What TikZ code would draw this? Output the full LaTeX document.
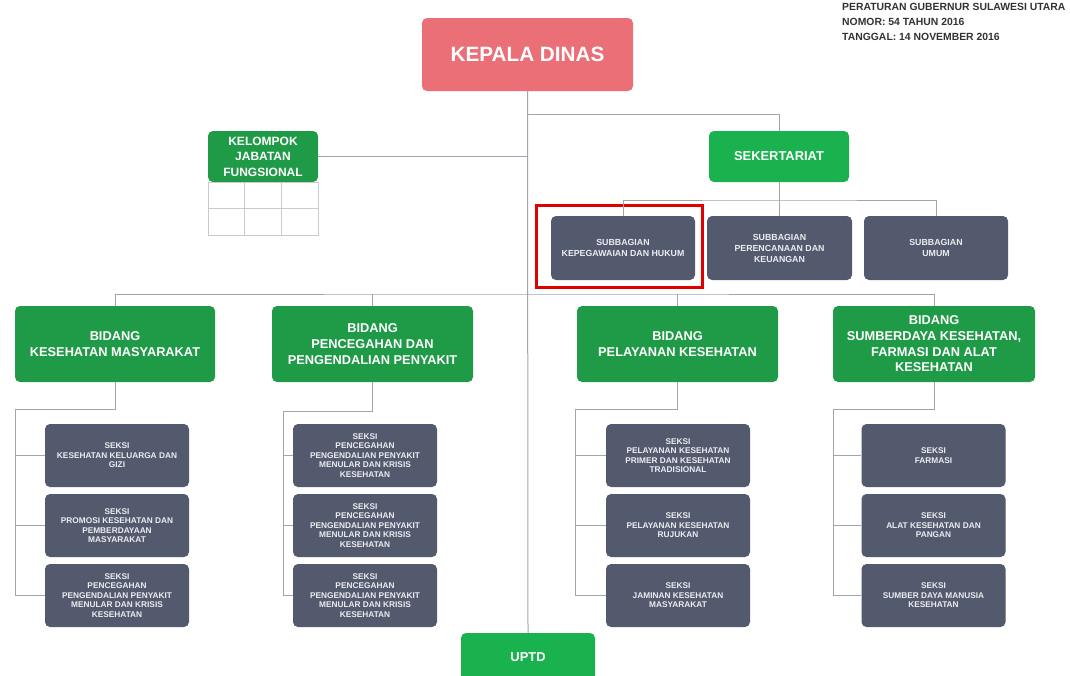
\documentclass[tikz,border=0pt]{standalone}
\usepackage{fontspec}
\setmainfont{Liberation Sans}
\usetikzlibrary{calc}
\definecolor{kdred}{HTML}{EA6F77}
\definecolor{gdark}{HTML}{1F9A47}
\definecolor{gbright}{HTML}{19B24F}
\definecolor{slate}{HTML}{535A6D}
\definecolor{conn}{HTML}{A0A6AD}
\definecolor{gridc}{HTML}{CBCBCB}
\definecolor{hilite}{HTML}{E00000}
\definecolor{hdr}{HTML}{333333}
\definecolor{seksitxt}{HTML}{ECEDF2}
\tikzset{
  box/.style={rectangle, rounded corners=5pt, inner sep=0pt, align=center, text=white, font=\bfseries},
  kdbox/.style={box, fill=kdred, minimum width=211pt, minimum height=73pt, font=\bfseries\fontsize{20.7}{24}\selectfont},
  kjfbox/.style={box, fill=gdark, minimum width=110pt, minimum height=51pt, font=\bfseries\fontsize{12}{15.6}\selectfont},
  sekbox/.style={box, fill=gbright, minimum width=140pt, minimum height=51pt, font=\bfseries\fontsize{12.9}{15}\selectfont},
  subbox/.style={box, fill=slate, minimum width=144pt, minimum height=64pt, text=seksitxt, font=\bfseries\fontsize{8.8}{11}\selectfont},
  bidbox/.style={box, fill=gdark, minimum width=201pt, minimum height=76pt, font=\bfseries\fontsize{12.8}{15.7}\selectfont},
  seksibox/.style={box, fill=slate, minimum width=144pt, minimum height=63pt, text=seksitxt, font=\bfseries\fontsize{8.3}{9.4}\selectfont},
  uptdbox/.style={box, fill=gbright, minimum width=134pt, minimum height=48pt, font=\bfseries\fontsize{12.9}{15}\selectfont},
  link/.style={draw=conn, line width=1pt},
  gridline/.style={draw=gridc, line width=0.8pt},
}
\begin{document}
\begin{tikzpicture}[x=1pt,y=-1pt]
\useasboundingbox[fill=white] (0,0) rectangle (1070,675);

% header
\node[anchor=north west, inner sep=0pt, align=left, text=hdr,
      font=\bfseries\fontsize{10.4}{14.6}\selectfont] (hdr) at (842,3.5)
  {PERATURAN GUBERNUR SULAWESI UTARA\\NOMOR: 54 TAHUN 2016\\TANGGAL: 14 NOVEMBER 2016};

% top level
\node[kdbox] (kd) at (527.5,54.5) {KEPALA DINAS};
\node[kjfbox] (kjf) at (263,156.5) {KELOMPOK\\JABATAN\\FUNGSIONAL};
\node[sekbox] (sek) at (779,156.5) {SEKERTARIAT};

% grid under kelompok
\draw[gridline] (208,182) rectangle (318,235);
\draw[gridline] (208,208) -- (318,208);
\draw[gridline] (244,182) -- (244,235);
\draw[gridline] (281,182) -- (281,235);

% subbagian
\node[subbox] (sb1) at (623,248) {SUBBAGIAN\\KEPEGAWAIAN DAN HUKUM};
\node[subbox, minimum width=145pt] (sb2) at (779.5,248) {SUBBAGIAN\\PERENCANAAN DAN\\KEUANGAN};
\node[subbox] (sb3) at (936,248) {SUBBAGIAN\\UMUM};
\draw[hilite, line width=3pt] ($(sb1.north west)+(-14,-10)$) rectangle ($(sb1.south east)+(7,7)$);

% bidang
\node[bidbox, minimum width=200pt] (b1) at (115,344) {BIDANG\\KESEHATAN MASYARAKAT};
\node[bidbox] (b2) at (372.5,344) {BIDANG\\PENCEGAHAN DAN\\PENGENDALIAN PENYAKIT};
\node[bidbox] (b3) at (677.5,344) {BIDANG\\PELAYANAN KESEHATAN};
\node[bidbox, minimum width=202pt] (b4) at (934,344) {BIDANG\\SUMBERDAYA KESEHATAN,\\FARMASI DAN ALAT\\KESEHATAN};

% seksi column 1
\node[seksibox] (s11) at (117,455.5) {SEKSI\\KESEHATAN KELUARGA DAN\\GIZI};
\node[seksibox] (s12) at (117,525.5) {SEKSI\\PROMOSI KESEHATAN DAN\\PEMBERDAYAAN\\MASYARAKAT};
\node[seksibox] (s13) at (117,595.5) {SEKSI\\PENCEGAHAN\\PENGENDALIAN PENYAKIT\\MENULAR DAN KRISIS\\KESEHATAN};
% column 2
\node[seksibox] (s21) at (365,455.5) {SEKSI\\PENCEGAHAN\\PENGENDALIAN PENYAKIT\\MENULAR DAN KRISIS\\KESEHATAN};
\node[seksibox] (s22) at (365,525.5) {SEKSI\\PENCEGAHAN\\PENGENDALIAN PENYAKIT\\MENULAR DAN KRISIS\\KESEHATAN};
\node[seksibox] (s23) at (365,595.5) {SEKSI\\PENCEGAHAN\\PENGENDALIAN PENYAKIT\\MENULAR DAN KRISIS\\KESEHATAN};
% column 3
\node[seksibox] (s31) at (678,455.5) {SEKSI\\PELAYANAN KESEHATAN\\PRIMER DAN KESEHATAN\\TRADISIONAL};
\node[seksibox] (s32) at (678,525.5) {SEKSI\\PELAYANAN KESEHATAN\\RUJUKAN};
\node[seksibox] (s33) at (678,595.5) {SEKSI\\JAMINAN KESEHATAN\\MASYARAKAT};
% column 4
\node[seksibox] (s41) at (933.5,455.5) {SEKSI\\FARMASI};
\node[seksibox] (s42) at (933.5,525.5) {SEKSI\\ALAT KESEHATAN DAN\\PANGAN};
\node[seksibox] (s43) at (933.5,595.5) {SEKSI\\SUMBER DAYA MANUSIA\\KESEHATAN};

% UPTD
\node[uptdbox] (uptd) at (528,657) {UPTD};

% junction coordinates
\coordinate (jsek) at (528,114);
\coordinate (jsub) at (779,200);
\coordinate (jbid) at (528,294);
\coordinate (r1) at (15,409);
\coordinate (r2) at (283,411);
\coordinate (r3) at (575,409);
\coordinate (r4) at (833,409);

% connectors
\draw[link] (kd.south) -- (uptd.north);
\draw[link] (jsek) -| (sek.north);
\draw[link] (kjf.east) -- (kjf.east -| kd.south);
\draw[link] (sek.south) -- (jsub);
\draw[link] (sb1.north) |- (jsub) -| (sb3.north);
\draw[link] (sb2.north) -- (sb2.north |- jsub);
\draw[link] (b1.north) |- (jbid) -| (b4.north);
\draw[link] (b2.north) -- (b2.north |- jbid);
\draw[link] (b3.north) -- (b3.north |- jbid);
\draw[link] (b1.south) |- (r1) |- (s13.west);
\draw[link] (r1 |- s11.west) -- (s11.west);
\draw[link] (r1 |- s12.west) -- (s12.west);
\draw[link] (b2.south) |- (r2) |- (s23.west);
\draw[link] (r2 |- s21.west) -- (s21.west);
\draw[link] (r2 |- s22.west) -- (s22.west);
\draw[link] (b3.south) |- (r3) |- (s33.west);
\draw[link] (r3 |- s31.west) -- (s31.west);
\draw[link] (r3 |- s32.west) -- (s32.west);
\draw[link] (b4.south) |- (r4) |- (s43.west);
\draw[link] (r4 |- s41.west) -- (s41.west);
\draw[link] (r4 |- s42.west) -- (s42.west);
\end{tikzpicture}
\end{document}
